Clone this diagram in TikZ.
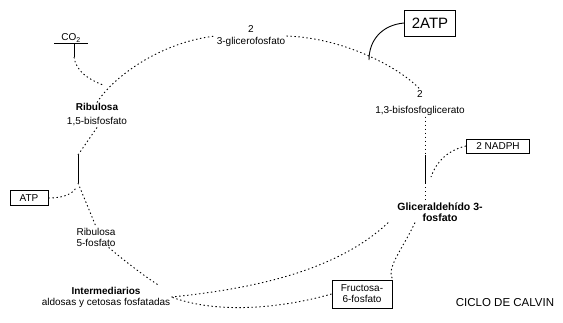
\documentclass[tikz,border=0pt]{standalone}
\usepackage{fontspec}
\setmainfont{Liberation Sans}
\usetikzlibrary{positioning}

\tikzset{
  metab/.style={align=center, inner sep=1pt, font=\fontsize{10}{12}\selectfont},
  cofactor/.style={draw, line width=1pt, inner sep=2pt, align=center, font=\fontsize{10}{11}\selectfont},
  cyc/.style={line width=0.9pt, dash pattern=on 1.4pt off 2.6pt},
  feed/.style={line width=0.9pt},
}

\begin{document}
\begin{tikzpicture}[x=1pt,y=-1pt]
    \useasboundingbox (0,0) rectangle (563,322);

    % compuestos del ciclo
    \node[metab] (pga) at (251,36) {2\\3-glicerofosfato};
    \node[metab, font=\fontsize{10}{16}\selectfont] (bpg) at (420,103) {2\\1,3-bisfosfoglicerato};
    \node[metab, font=\fontsize{10.5}{11}\selectfont\bfseries] (gap) at (440,212) {Gliceraldehído 3-\\fosfato};
    \node[metab, font=\fontsize{10}{14}\selectfont] (rubp) at (97,115) {\textbf{Ribulosa}\\1,5-bisfosfato};
    \node[metab, font=\fontsize{10}{11}\selectfont] (ru5p) at (96,237) {Ribulosa\\5-fosfato};
    \node[metab, font=\fontsize{10}{11}\selectfont] (inter) at (106,297) {\textbf{Intermediarios}\\aldosas y cetosas fosfatadas};
    \node[metab, minimum width=33pt] (co2) at (71,38) {CO\textsubscript{2}};
    \node[metab, font=\fontsize{11.5}{12}\selectfont] (title) at (505,303) {CICLO DE CALVIN};

    % cofactores
    \node[cofactor, font=\fontsize{15}{16}\selectfont, minimum width=51pt, minimum height=26pt] (atp2) at (430,23) {2ATP};
    \node[cofactor, minimum width=63pt, minimum height=14pt] (nadph) at (498,146) {2 NADPH};
    \node[cofactor, minimum width=38pt, minimum height=15pt] (atp) at (29,198) {ATP};
    \node[cofactor, minimum width=60pt, minimum height=28pt] (f6p) at (362,294) {Fructosa-\\6-fosfato};

    % puntos de union
    \coordinate (co2stem) at (74,57);
    \coordinate (jco2) at (103,85);
    \coordinate (jatp2) at (369,60);
    \coordinate (nadtop) at (425,155);
    \coordinate (nadbot) at (425,183);
    \coordinate (jnadph) at (431,177);
    \coordinate (atptop) at (78,155);
    \coordinate (atpbot) at (78,183);
    \coordinate (jatp) at (76,188);

    % ciclo
    \draw[cyc] (rubp.north) .. controls (112,78) and (160,42) .. (pga.west);
    \draw[cyc] (pga.east) .. controls (345,38) and (400,68) .. (bpg.north);
    \draw[cyc] (nadtop |- bpg.south) -- (nadtop);
    \draw[feed] (nadtop) -- (nadbot);
    \draw[cyc] (nadbot) -- (nadbot |- gap.north);
    \draw[cyc] ([xshift=-25pt]gap.south) .. controls (402,250) and (386,268) .. (f6p.north east);
    \draw[cyc] ([xshift=-8pt]gap.south west) .. controls (340,268) and (262,288) .. (inter.east);
    \draw[cyc] (f6p.west) .. controls (290,306) and (222,316) .. (inter.east);
    \draw[cyc] ([xshift=-8pt]ru5p.south east) .. controls (128,264) and (150,280) .. ([xshift=-12pt]inter.north east);
    \draw[cyc] (rubp.south) -- (atptop);
    \draw[feed] (atptop) -- (atpbot);
    \draw[cyc] (atpbot) -- (ru5p.north);

    % entradas
    \draw[feed] (co2.south west) -- (co2.south east);
    \draw[feed] ([xshift=3pt]co2.south) -- (co2stem);
    \draw[cyc] (co2stem) .. controls (76,72) and (90,80) .. (jco2);
    \draw[feed] (atp2.west) .. controls (382,25) and (369,40) .. (jatp2);
    \draw[cyc] (nadph.west) .. controls (448,150) and (436,162) .. (jnadph);
    \draw[cyc] (atp.east) .. controls (64,198) and (72,194) .. (jatp);
\end{tikzpicture}
\end{document}
